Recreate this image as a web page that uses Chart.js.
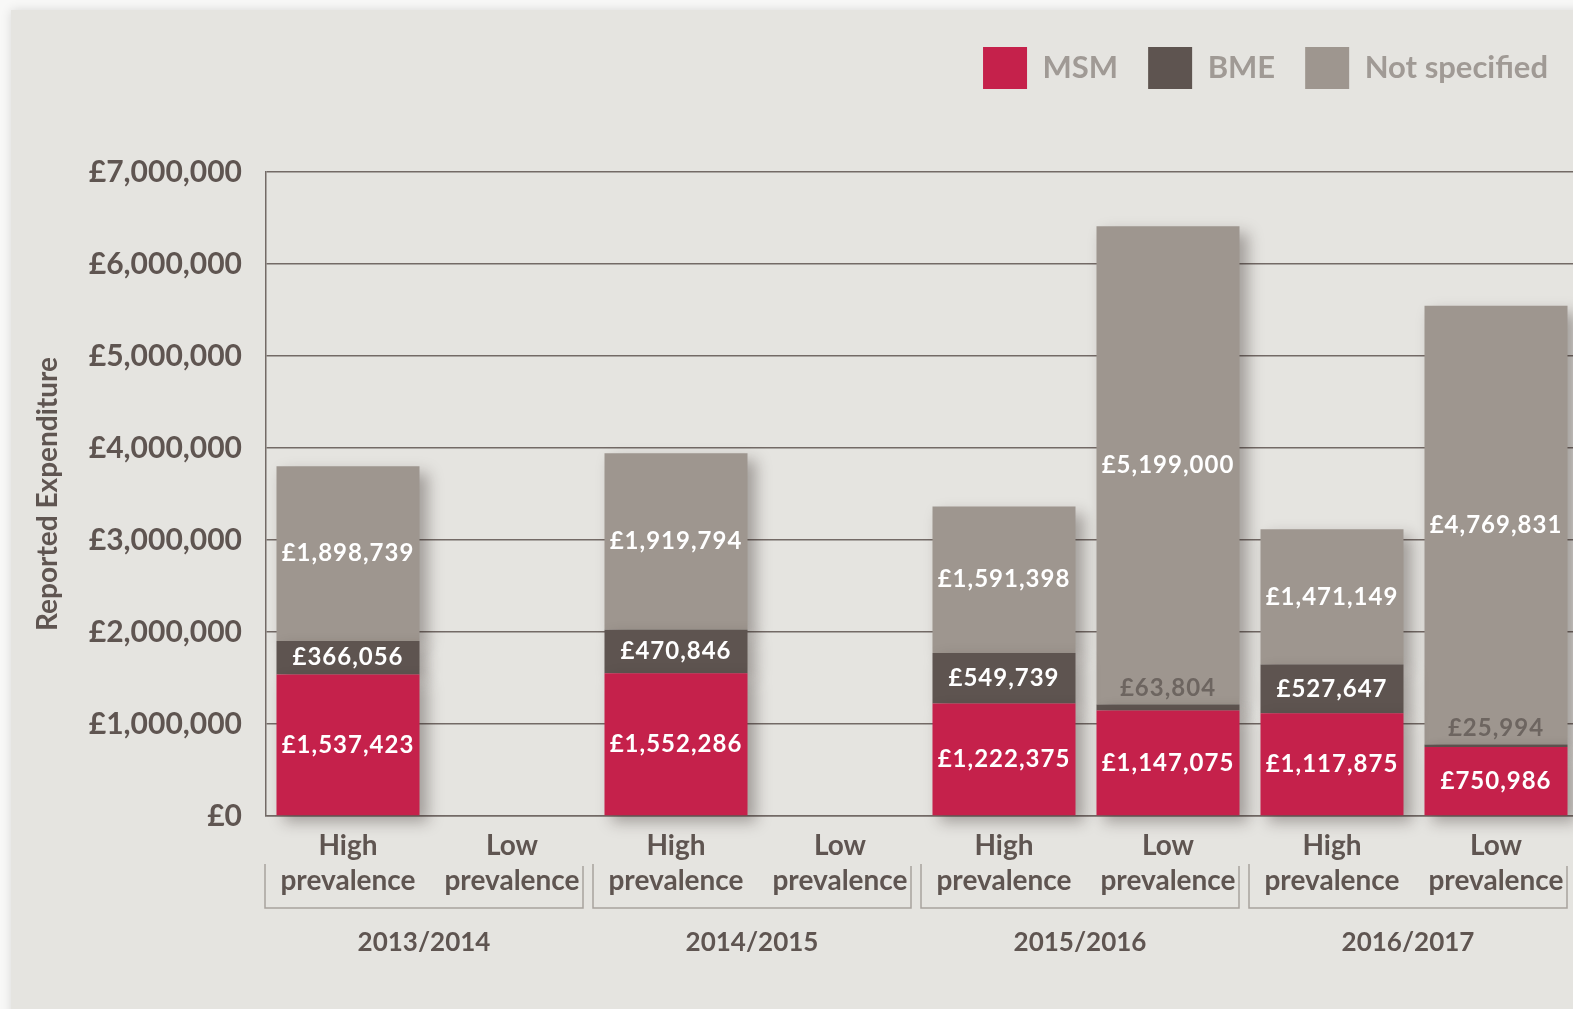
<!DOCTYPE html>
<html>
<head>
<meta charset="utf-8">
<script src="https://cdn.jsdelivr.net/npm/chart.js@4/dist/chart.umd.min.js"></script>
<style>
  html, body { margin: 0; padding: 0; background: #f8f8f7; overflow: hidden; }
  body { width: 1573px; height: 1009px; position: relative; }
  #panel { position: absolute; left: 11px; top: 10px; width: 1620px; height: 1040px;
           background: #e5e4e0; box-shadow: 0 0 10px rgba(0,0,0,0.13); }
  #chart { position: absolute; left: 0; top: 0; }
</style>
</head>
<body>
<div id="panel"></div>
<canvas id="chart" width="1600" height="1009"></canvas>
<script>
// data
let years = ['2013/2014', '2014/2015', '2015/2016', '2016/2017'];
let prevalence = ['High', 'Low'];
let msm = [1537423, null, 1552286, null, 1222375, 1147075, 1117875, 750986];
let bme = [366056, null, 470846, null, 549739, 63804, 527647, 25994];
let notSpecified = [1898739, null, 1919794, null, 1591398, 5199000, 1471149, 4769831];
let yTicks = [0, 1000000, 2000000, 3000000, 4000000, 5000000, 6000000, 7000000];

let labels = [];
for (let y of years) {
  for (let p of prevalence) labels.push([p, 'prevalence']);
}

const textCol = '#5f5551';
const gridCol = '#736a66';
const money = v => '£' + v.toLocaleString('en-GB');

// push plot area down below the legend
const legendGap = {
  id: 'legendGap',
  beforeLayout(chart) {
    let lg = chart.legend;
    if (lg && !lg._gap) {
      let fit = lg.fit;
      lg.fit = function () { fit.call(this); this.height += 73; };
      lg._gap = true;
    }
  }
};

// drop shadow behind the stacks
const barShadow = {
  id: 'barShadow',
  beforeDatasetsDraw(chart) {
    let ctx = chart.ctx;
    ctx.save();
    ctx.shadowColor = 'rgba(40,30,25,0.35)';
    ctx.shadowBlur = 14;
    ctx.shadowOffsetX = 8;
    ctx.shadowOffsetY = 7;
  },
  afterDatasetsDraw(chart) {
    chart.ctx.restore();
  }
};

// value labels inside the segments
const segLabels = {
  id: 'segLabels',
  afterDatasetsDraw(chart) {
    let ctx = chart.ctx;
    ctx.save();
    ctx.font = 'bold 24px Lato';
    ctx.textAlign = 'center';
    ctx.textBaseline = 'middle';
    try { ctx.letterSpacing = '1px'; } catch (e) {}
    chart.data.datasets.forEach((ds, i) => {
      let meta = chart.getDatasetMeta(i);
      meta.data.forEach((bar, j) => {
        let v = ds.data[j];
        if (v == null) return;
        let h = Math.abs(bar.base - bar.y);
        if (h < 30) {
          ctx.fillStyle = '#6d6560';
          ctx.fillText(money(v), bar.x, bar.y - 16);
        } else {
          ctx.fillStyle = '#ffffff';
          ctx.fillText(money(v), bar.x, (bar.y + bar.base) / 2);
        }
      });
    });
    ctx.restore();
  }
};

// year brackets under the x labels
const yearGroups = {
  id: 'yearGroups',
  afterDraw(chart) {
    let ctx = chart.ctx;
    let x = chart.scales.x;
    let step = x.getPixelForValue(1) - x.getPixelForValue(0);
    ctx.save();
    ctx.strokeStyle = '#a8a29d';
    ctx.lineWidth = 1.5;
    ctx.fillStyle = textCol;
    ctx.font = 'bold 26px Lato';
    ctx.textAlign = 'center';
    ctx.textBaseline = 'middle';
    years.forEach((yr, g) => {
      let l = x.getPixelForValue(g * 2) - step / 2 - 1;
      let r = x.getPixelForValue(g * 2 + 1) + step / 2 - 11;
      ctx.beginPath();
      ctx.moveTo(l, 864);
      ctx.lineTo(l, 908);
      ctx.lineTo(r, 908);
      ctx.lineTo(r, 866);
      ctx.stroke();
      ctx.fillText(yr, (l + r) / 2, 943);
    });
    ctx.restore();
  }
};

new Chart(document.getElementById('chart'), {
  type: 'bar',
  data: {
    labels: labels,
    datasets: [
      { label: 'MSM', data: msm, backgroundColor: '#c5214b', borderWidth: 0, clip: false },
      { label: 'BME', data: bme, backgroundColor: '#5e5450', borderWidth: 0, clip: false },
      { label: 'Not specified', data: notSpecified, backgroundColor: '#9e968f', borderWidth: 0, clip: false }
    ]
  },
  plugins: [legendGap, barShadow, segLabels, yearGroups],
  options: {
    responsive: false,
    animation: false,
    events: [],
    layout: { padding: { top: 17, right: 22, left: 0, bottom: 0 } },
    datasets: { bar: { categoryPercentage: 1, barPercentage: 0.872 } },
    plugins: {
      tooltip: { enabled: false },
      legend: {
        position: 'top',
        align: 'end',
        labels: {
          boxWidth: 44,
          boxHeight: 42,
          padding: 30,
          color: '#a09a95',
          font: { family: 'Lato', size: 31, weight: 'bold' }
        }
      }
    },
    scales: {
      x: {
        stacked: true,
        grid: { display: false, drawTicks: false },
        border: { display: true, color: gridCol, width: 1.5 },
        ticks: {
          color: textCol,
          padding: 12,
          maxRotation: 0,
          autoSkip: false,
          font: { family: 'Lato', size: 28, weight: 'bold', lineHeight: 1.25 }
        },
        afterFit(s) { s.height = 193; }
      },
      y: {
        stacked: true,
        min: 0,
        max: 7000000,
        afterBuildTicks(s) { s.ticks = yTicks.map(v => ({ value: v })); },
        grid: { color: gridCol, lineWidth: 1.5, drawTicks: false },
        border: { display: true, color: gridCol, width: 1.5 },
        ticks: {
          color: textCol,
          padding: 24,
          font: { family: 'Lato', size: 30, weight: 'bold' },
          callback: v => money(v)
        },
        title: {
          display: true,
          text: 'Reported Expenditure',
          color: textCol,
          padding: { top: 31, bottom: 0 },
          font: { family: 'Lato', size: 28, weight: 'bold' }
        },
        afterFit(s) { s.width = 266; }
      }
    }
  }
});
</script>
</body>
</html>
